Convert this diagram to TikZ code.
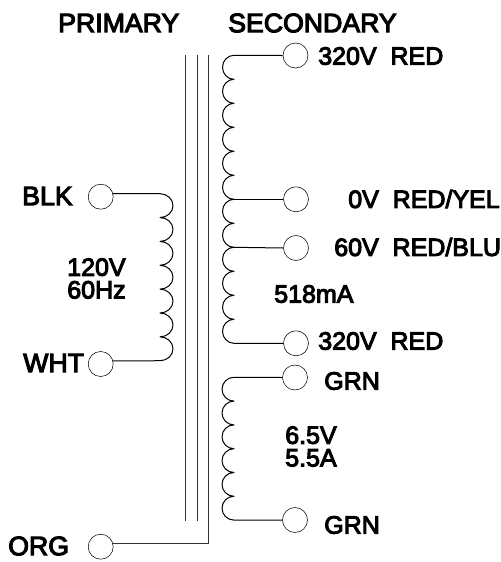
\documentclass[tikz,border=0pt]{standalone}
\usepackage{fontspec}
\usepackage{tikz}
\newfontfamily\labelfont[FakeBold=4]{Liberation Sans}
\begin{document}
\begin{tikzpicture}[
        x=0.75pt, y=-0.75pt,
        terminal/.style={draw, circle, minimum size=18.75pt, inner sep=0pt},
        label/.style={inner sep=0pt, anchor=west, align=center, font=\labelfont\fontsize{18.75}{17}\selectfont},
        biglabel/.style={label, font=\labelfont\fontsize{20}{17}\selectfont},
        wire/.style={line width=0.75pt, line join=round},
        core/.style={line width=0.7pt, black!80}
    ]
        \useasboundingbox (0,0) rectangle (501,562);

        % headings
        \node[biglabel] (primary) at (58,23) {PRIMARY};
        \node[biglabel] (secondary) at (228,23) {SECONDARY};

        % terminals
        \node[terminal] (blk) at (100.7,196.7) {};
        \node[terminal] (wht) at (100.7,364) {};
        \node[terminal] (org) at (100.7,546.7) {};
        \node[terminal] (hvtop) at (295.5,55.5) {};
        \node[terminal] (zerotap) at (296,199.3) {};
        \node[terminal] (sixtytap) at (296,248) {};
        \node[terminal] (hvbot) at (296,343.3) {};
        \node[terminal] (lvtop) at (295,377.5) {};
        \node[terminal] (lvbot) at (295,520) {};

        % terminal labels
        \node[biglabel] (blklabel) at (22,196) {BLK};
        \node[biglabel] (whtlabel) at (23,363) {WHT};
        \node[biglabel] (orglabel) at (8,546) {ORG};
        \node[label] (hvtoplabel) at (318,56) {320V\ \ RED};
        \node[label] (zerolabel) at (348,199) {0V\ \ RED/YEL};
        \node[label] (sixtylabel) at (334,247) {60V\ \ RED/BLU};
        \node[label] (hvbotlabel) at (318,341) {320V\ \ RED};
        \node[label] (lvtoplabel) at (324,381) {GRN};
        \node[label] (lvbotlabel) at (324,525) {GRN};

        % ratings
        \node[label] (primrating) at (67,278.5) {120V\\60Hz};
        \node[label] (hvrating) at (274,294) {518mA};
        \node[label] (lvrating) at (285,446.5) {6.5V\\5.5A};

        % core
        \coordinate (corea) at (185.7,55);
        \coordinate (coreb) at (197,55);
        \coordinate (corec) at (208.3,55);
        \draw[core] (corea) -- (185.7,520.7);
        \draw[core] (coreb) -- (197,520.7);
        \draw[core] (corec) |- (org.14);

        % primary winding
        \draw[wire] (blk.14) -- (160,193.7)
            \foreach \i in {1,...,7} {arc[start angle=-90, end angle=90, x radius=13, y radius=11.93]}
            -- (wht.14);

        % secondary winding
        \draw[wire] (hvtop.west) -- (234,55.3)
            \foreach \i in {1,...,12} {arc[start angle=-90, end angle=-270, x radius=11.5, y radius=12]}
            -- (hvbot.west);
        \draw[wire] (zerotap.west) -- (234,199.3);
        \draw[wire] (sixtytap.west) -- (234,247.3);

        % low voltage winding
        \draw[wire] (lvtop.west) -- (234,377.3)
            \foreach \i in {1,...,6} {arc[start angle=-90, end angle=-270, x radius=12, y radius=11.9]}
            -- (lvbot.west);
    \end{tikzpicture}
\end{document}
